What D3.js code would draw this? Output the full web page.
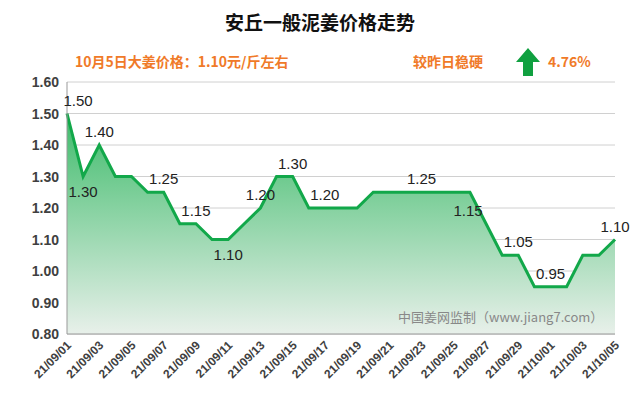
<!DOCTYPE html>
<html><head><meta charset="utf-8">
<script src="https://cdn.jsdelivr.net/npm/d3@7"></script>
<style>body{margin:0;background:#fff;font-family:"Noto Sans CJK SC","Noto Sans",sans-serif}</style>
</head><body><svg id="c" width="640" height="410"></svg>
<script>
const dates=["21/09/01","21/09/02","21/09/03","21/09/04","21/09/05","21/09/06","21/09/07","21/09/08","21/09/09","21/09/10","21/09/11","21/09/12","21/09/13","21/09/14","21/09/15","21/09/16","21/09/17","21/09/18","21/09/19","21/09/20","21/09/21","21/09/22","21/09/23","21/09/24","21/09/25","21/09/26","21/09/27","21/09/28","21/09/29","21/09/30","21/10/01","21/10/02","21/10/03","21/10/04","21/10/05"];
const prices=[1.50,1.30,1.40,1.30,1.30,1.25,1.25,1.15,1.15,1.10,1.10,1.15,1.20,1.30,1.30,1.20,1.20,1.20,1.20,1.25,1.25,1.25,1.25,1.25,1.25,1.25,1.15,1.05,1.05,0.95,0.95,0.95,1.05,1.05,1.10];
const labelIdx=[0,1,2,6,8,10,12,14,16,22,26,28,30,34];
const labelBelow=[1,10];
const yTicks=[0.80,0.90,1.00,1.10,1.20,1.30,1.40,1.50,1.60];
const svg=d3.select("#c");
const L=67,R=615,T=82,B=334;
const x=d3.scalePoint().domain(dates).range([L,R]);
const y=d3.scaleLinear().domain([0.8,1.6]).range([B,T]);
const defs=svg.append("defs");
const g=defs.append("linearGradient").attr("id","gr").attr("x1",0).attr("x2",0).attr("y1",0).attr("y2",1);
g.append("stop").attr("offset","0%").attr("stop-color","#3dbb6a");
g.append("stop").attr("offset","100%").attr("stop-color","#e8f0ea");
svg.append("g").selectAll("line").data(yTicks).join("line")
 .attr("x1",L).attr("x2",R).attr("y1",d=>y(d)).attr("y2",d=>y(d)).attr("stroke","#d0d0d0");
svg.append("path").datum(prices).attr("fill","url(#gr)")
 .attr("d",d3.area().x((d,i)=>x(dates[i])).y0(B).y1(d=>y(d)));
svg.append("path").datum(prices).attr("fill","none").attr("stroke","#12a84a").attr("stroke-width",3)
 .attr("d",d3.line().x((d,i)=>x(dates[i])).y(d=>y(d)));
svg.append("line").attr("x1",L).attr("x2",L).attr("y1",T).attr("y2",B).attr("stroke","#999");
svg.append("line").attr("x1",L).attr("x2",R).attr("y1",B).attr("y2",B).attr("stroke","#999");
svg.append("g").selectAll("text").data(yTicks).join("text")
 .attr("x",L-8).attr("y",d=>y(d)+5).attr("text-anchor","end").attr("font-size",14).attr("font-weight","bold")
 .attr("fill","#404040").attr("font-family","Liberation Sans").text(d=>d.toFixed(2));
svg.append("g").selectAll("text").data(dates.filter((d,i)=>i%2==0)).join("text")
 .attr("transform",d=>`translate(${x(d)+5},${B+12}) rotate(-45)`).attr("text-anchor","end")
 .attr("font-size",12).attr("font-weight","bold").attr("fill","#404040").attr("font-family","Liberation Sans").text(d=>d);
svg.append("g").selectAll("text").data(labelIdx).join("text")
 .attr("x",i=>x(dates[i])+(i==0?11:i==26?-18:0)).attr("y",i=>labelBelow.includes(i)?y(prices[i])+20:y(prices[i])-8)
 .attr("text-anchor","middle").attr("font-size",15).attr("fill","#222").attr("font-family","Liberation Sans")
 .text(i=>prices[i].toFixed(2));
svg.append("text").attr("x",320).attr("y",30).attr("text-anchor","middle").attr("font-size",19).attr("font-weight","bold").attr("fill","#111").text("安丘一般泥姜价格走势");
svg.append("text").attr("x",75).attr("y",67).attr("font-size",14).attr("font-weight","bold").attr("fill","#f07a28").text("10月5日大姜价格：1.10元/斤左右");
svg.append("text").attr("x",413).attr("y",67).attr("font-size",14).attr("font-weight","bold").attr("fill","#f07a28").text("较昨日稳硬");
svg.append("path").attr("d","M528,48 L540,62 L533,62 L533,76 L523,76 L523,62 L516,62 Z").attr("fill","#10a040");
svg.append("text").attr("x",548).attr("y",67).attr("font-size",14).attr("font-weight","bold").attr("fill","#f07a28").text("4.76%");
svg.append("text").attr("x",398).attr("y",322).attr("font-size",13).attr("fill","#888").text("中国姜网监制（www.jiang7.com）");
</script></body></html>
